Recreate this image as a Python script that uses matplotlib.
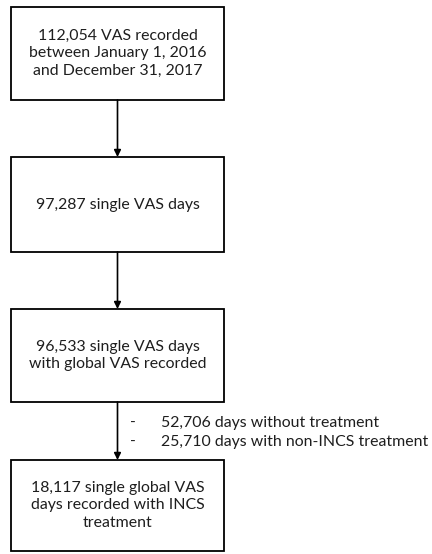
import matplotlib.pyplot as plt

# flowchart content
box_texts = [
    "112,054 VAS recorded\nbetween January 1, 2016\nand December 31, 2017",
    "97,287 single VAS days",
    "96,533 single VAS days\nwith global VAS recorded",
    "18,117 single global VAS\ndays recorded with INCS\ntreatment",
]
excluded_counts = ["52,706", "25,710"]
excluded_labels = ["days without treatment", "days with non-INCS treatment"]

# box layout in pixels (top, bottom)
box_tops = [7, 157, 309, 460]
box_bottoms = [100, 252, 402, 551]
x_left, x_right = 11, 224
x_mid = (x_left + x_right) / 2

fig = plt.figure(figsize=(4.32, 5.54), dpi=100)
ax = fig.add_axes([0, 0, 1, 1])
ax.set_xlim(0, 432)
ax.set_ylim(554, 0)
ax.axis('off')

font = ['Lato', 'DejaVu Sans']
txt_color = '#1e1e1e'
fs = 11.4

for i, text in enumerate(box_texts):
    top, bottom = box_tops[i], box_bottoms[i]
    rect = plt.Rectangle((x_left, top), x_right - x_left, bottom - top,
                         fill=False, edgecolor='black', linewidth=1.3)
    ax.add_patch(rect)
    ax.text(x_mid, (top + bottom) / 2, text, ha='center', va='center',
            fontsize=fs, family=font, color=txt_color, linespacing=1.3)

# arrows between boxes
for i in range(len(box_texts) - 1):
    ax.annotate('', xy=(x_mid, box_tops[i + 1]), xytext=(x_mid, box_bottoms[i]),
                arrowprops=dict(arrowstyle='-|>', color='black', lw=1.2,
                                mutation_scale=10, shrinkA=0, shrinkB=0))

# exclusion list next to last arrow
for j, (n, lab) in enumerate(zip(excluded_counts, excluded_labels)):
    y = 423 + j * 19
    ax.text(130, y, '-', ha='left', va='center', fontsize=fs, family=font, color=txt_color)
    ax.text(161, y, n + ' ' + lab, ha='left', va='center', fontsize=fs,
            family=font, color=txt_color)

fig.savefig('out.png', dpi=100)
